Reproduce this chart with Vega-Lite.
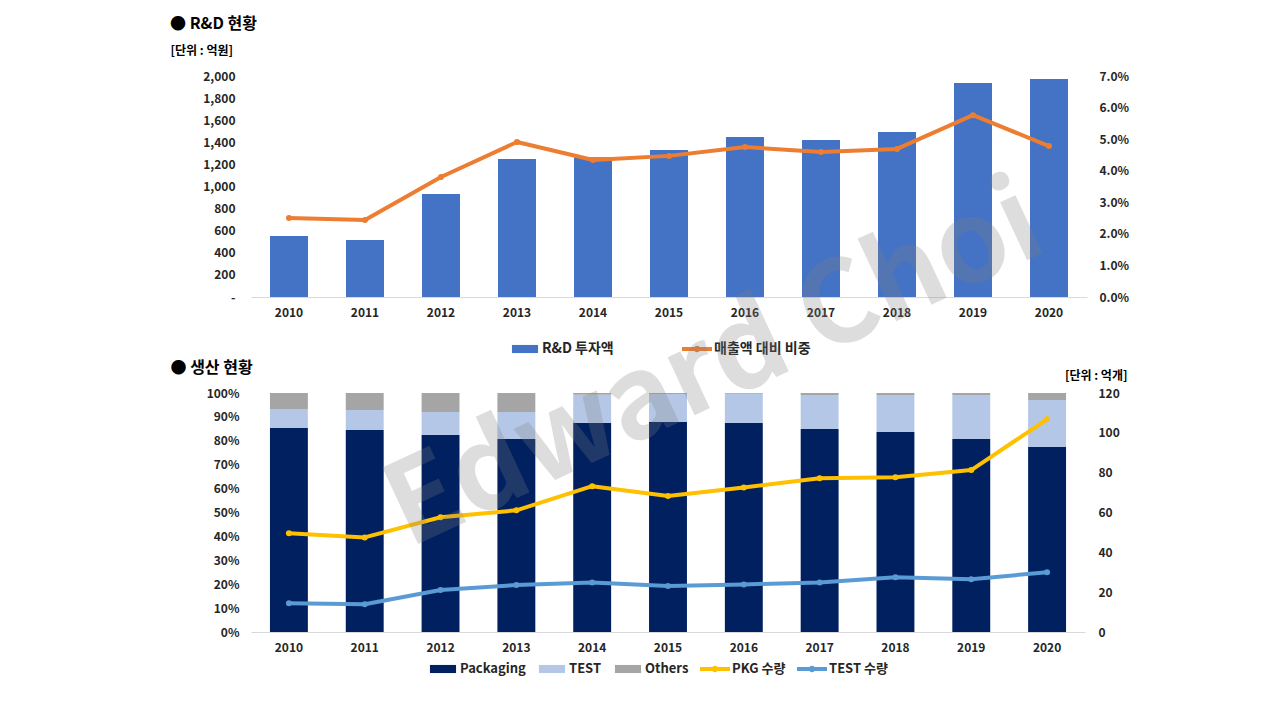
{
  "$schema": "https://vega.github.io/schema/vega-lite/v6.json",
  "background": "white",
  "padding": {"left": 170, "top": 16, "right": 10, "bottom": 10},
  "bounds": "flush",
  "spacing": 96,
  "resolve": {"scale": {"color": "independent"}, "legend": {"color": "independent"}},
  "config": {
    "view": {"stroke": null},
    "font": "Noto Sans CJK KR",
    "axis": {
      "labelFont": "Noto Sans CJK KR",
      "labelFontSize": 12,
      "labelFontWeight": "bold",
      "labelColor": "#262626",
      "labelOverlap": false,
      "titleFont": "Noto Sans CJK KR",
      "ticks": false,
      "tickSize": 0,
      "grid": false,
      "domain": false
    },
    "axisX": {"domain": true, "domainColor": "#d9d9d9", "domainWidth": 1, "labelAngle": 0, "labelPadding": 10, "title": null},
    "legend": {
      "labelFont": "Noto Sans CJK KR",
      "labelFontSize": 13,
      "labelFontWeight": "bold",
      "labelColor": "#262626",
      "padding": 0
    }
  },
  "datasets": {
    "rd": [
      {"year": "2010", "rnd": 552, "ratio": 0.0250},
      {"year": "2011", "rnd": 516, "ratio": 0.0244},
      {"year": "2012", "rnd": 932, "ratio": 0.0380},
      {"year": "2013", "rnd": 1249, "ratio": 0.0491},
      {"year": "2014", "rnd": 1265, "ratio": 0.0434},
      {"year": "2015", "rnd": 1330, "ratio": 0.0447},
      {"year": "2016", "rnd": 1448, "ratio": 0.0475},
      {"year": "2017", "rnd": 1421, "ratio": 0.0459},
      {"year": "2018", "rnd": 1493, "ratio": 0.0469},
      {"year": "2019", "rnd": 1937, "ratio": 0.0576},
      {"year": "2020", "rnd": 1973, "ratio": 0.0478}
    ],
    "share": [
      {"year": "2010", "type": "Packaging", "rank": 1, "pct": 0.854},
      {"year": "2010", "type": "TEST", "rank": 2, "pct": 0.079},
      {"year": "2010", "type": "Others", "rank": 3, "pct": 0.067},
      {"year": "2011", "type": "Packaging", "rank": 1, "pct": 0.845},
      {"year": "2011", "type": "TEST", "rank": 2, "pct": 0.084},
      {"year": "2011", "type": "Others", "rank": 3, "pct": 0.071},
      {"year": "2012", "type": "Packaging", "rank": 1, "pct": 0.824},
      {"year": "2012", "type": "TEST", "rank": 2, "pct": 0.096},
      {"year": "2012", "type": "Others", "rank": 3, "pct": 0.080},
      {"year": "2013", "type": "Packaging", "rank": 1, "pct": 0.808},
      {"year": "2013", "type": "TEST", "rank": 2, "pct": 0.112},
      {"year": "2013", "type": "Others", "rank": 3, "pct": 0.080},
      {"year": "2014", "type": "Packaging", "rank": 1, "pct": 0.874},
      {"year": "2014", "type": "TEST", "rank": 2, "pct": 0.119},
      {"year": "2014", "type": "Others", "rank": 3, "pct": 0.007},
      {"year": "2015", "type": "Packaging", "rank": 1, "pct": 0.879},
      {"year": "2015", "type": "TEST", "rank": 2, "pct": 0.117},
      {"year": "2015", "type": "Others", "rank": 3, "pct": 0.004},
      {"year": "2016", "type": "Packaging", "rank": 1, "pct": 0.874},
      {"year": "2016", "type": "TEST", "rank": 2, "pct": 0.123},
      {"year": "2016", "type": "Others", "rank": 3, "pct": 0.003},
      {"year": "2017", "type": "Packaging", "rank": 1, "pct": 0.849},
      {"year": "2017", "type": "TEST", "rank": 2, "pct": 0.143},
      {"year": "2017", "type": "Others", "rank": 3, "pct": 0.008},
      {"year": "2018", "type": "Packaging", "rank": 1, "pct": 0.837},
      {"year": "2018", "type": "TEST", "rank": 2, "pct": 0.155},
      {"year": "2018", "type": "Others", "rank": 3, "pct": 0.008},
      {"year": "2019", "type": "Packaging", "rank": 1, "pct": 0.808},
      {"year": "2019", "type": "TEST", "rank": 2, "pct": 0.184},
      {"year": "2019", "type": "Others", "rank": 3, "pct": 0.008},
      {"year": "2020", "type": "Packaging", "rank": 1, "pct": 0.774},
      {"year": "2020", "type": "TEST", "rank": 2, "pct": 0.197},
      {"year": "2020", "type": "Others", "rank": 3, "pct": 0.029}
    ],
    "qty": [
      {"year": "2010", "series": "PKG 수량", "qty": 49.6},
      {"year": "2011", "series": "PKG 수량", "qty": 47.5},
      {"year": "2012", "series": "PKG 수량", "qty": 57.6},
      {"year": "2013", "series": "PKG 수량", "qty": 61.1},
      {"year": "2014", "series": "PKG 수량", "qty": 73.2},
      {"year": "2015", "series": "PKG 수량", "qty": 68.3},
      {"year": "2016", "series": "PKG 수량", "qty": 72.6},
      {"year": "2017", "series": "PKG 수량", "qty": 77.2},
      {"year": "2018", "series": "PKG 수량", "qty": 77.7},
      {"year": "2019", "series": "PKG 수량", "qty": 81.3},
      {"year": "2020", "series": "PKG 수량", "qty": 106.8},
      {"year": "2010", "series": "TEST 수량", "qty": 14.4},
      {"year": "2011", "series": "TEST 수량", "qty": 13.9},
      {"year": "2012", "series": "TEST 수량", "qty": 21.1},
      {"year": "2013", "series": "TEST 수량", "qty": 23.6},
      {"year": "2014", "series": "TEST 수량", "qty": 24.9},
      {"year": "2015", "series": "TEST 수량", "qty": 23.1},
      {"year": "2016", "series": "TEST 수량", "qty": 23.9},
      {"year": "2017", "series": "TEST 수량", "qty": 24.9},
      {"year": "2018", "series": "TEST 수량", "qty": 27.5},
      {"year": "2019", "series": "TEST 수량", "qty": 26.5},
      {"year": "2020", "series": "TEST 수량", "qty": 30.0}
    ],
    "mark": [{"label": "Edward Choi"}]
  },
  "vconcat": [
    {
      "width": 836,
      "height": 221,
      "title": {"text": "●  R&D 현황", "anchor": "start", "frame": "bounds", "offset": 12, "fontSize": 16, "fontWeight": "bold", "color": "#000000", "font": "Noto Sans CJK KR"},
      "data": {"name": "rd"},
      "encoding": {
        "x": {"field": "year", "type": "ordinal", "title": null, "scale": {"paddingInner": 0.5, "paddingOuter": 0.25}}
      },
      "layer": [
        {
          "mark": {"type": "bar"},
          "encoding": {
            "y": {
              "field": "rnd", "type": "quantitative",
              "scale": {"domain": [0, 2000]},
              "axis": {
                "orient": "left",
                "values": [0, 200, 400, 600, 800, 1000, 1200, 1400, 1600, 1800, 2000],
                "labelExpr": "datum.value === 0 ? '-' : format(datum.value, ',')",
                "labelPadding": 16,
                "title": "[단위 : 억원]",
                "titleAngle": 0, "titleAlign": "left", "titleBaseline": "middle",
                "titleX": -81, "titleY": -26,
                "titleFontSize": 12, "titleFontWeight": "bold", "titleColor": "#000000"
              }
            },
            "color": {
              "datum": "R&D 투자액",
              "scale": {"domain": ["R&D 투자액", "매출액 대비 비중"], "range": ["#4472C4", "#ED7D31"]},
              "legend": {
                "title": null, "orient": "none", "legendX": 259, "legendY": 258,
                "direction": "horizontal", "columns": 2, "columnPadding": 68, "labelFontSize": 14,
                "symbolType": "M-0.87,-0.27H0.87V0.27H-0.87Z", "symbolSize": 900, "symbolStrokeWidth": 0, "labelOffset": 2,
                "encode": {"symbols": {"update": {
                  "shape": [{"test": "datum.value === '매출액 대비 비중'", "value": "M-1,-0.14H1V0.14H-1Z M0.22,0A0.22,0.22 0 1 1 -0.22,0A0.22,0.22 0 1 1 0.22,0Z"}, {"value": "M-0.87,-0.27H0.87V0.27H-0.87Z"}],
                  "fill": [{"test": "datum.value === '매출액 대비 비중'", "value": "#ED7D31"}, {"value": "#4472C4"}],
                  "stroke": {"value": "transparent"},
                  "strokeWidth": {"value": 0},
                  "opacity": {"value": 1}
                }}}
              }
            }
          }
        },
        {
          "mark": {"type": "line", "strokeWidth": 4, "strokeCap": "round", "strokeJoin": "round", "point": {"filled": true, "size": 36}},
          "encoding": {
            "y": {
              "field": "ratio", "type": "quantitative",
              "scale": {"domain": [0, 0.07]},
              "axis": {"orient": "right", "format": ".1%", "values": [0, 0.01, 0.02, 0.03, 0.04, 0.05, 0.06, 0.07], "labelPadding": 12, "title": null}
            },
            "color": {
              "datum": "매출액 대비 비중",
              "legend": {
                "title": null, "orient": "none", "legendX": 259, "legendY": 258,
                "direction": "horizontal", "columns": 2, "columnPadding": 68, "labelFontSize": 14,
                "symbolType": "M-0.87,-0.27H0.87V0.27H-0.87Z", "symbolSize": 900, "symbolStrokeWidth": 0, "labelOffset": 2,
                "encode": {"symbols": {"update": {
                  "shape": [{"test": "datum.value === '매출액 대비 비중'", "value": "M-1,-0.14H1V0.14H-1Z M0.22,0A0.22,0.22 0 1 1 -0.22,0A0.22,0.22 0 1 1 0.22,0Z"}, {"value": "M-0.87,-0.27H0.87V0.27H-0.87Z"}],
                  "fill": [{"test": "datum.value === '매출액 대비 비중'", "value": "#ED7D31"}, {"value": "#4472C4"}],
                  "stroke": {"value": "transparent"},
                  "strokeWidth": {"value": 0},
                  "opacity": {"value": 1}
                }}}
              }
            }
          }
        }
      ],
      "resolve": {"scale": {"y": "independent"}}
    },
    {
      "width": 834,
      "height": 239,
      "layer": [
        {
          "data": {"name": "share"},
          "mark": {"type": "bar"},
          "encoding": {
            "x": {"field": "year", "type": "ordinal", "title": null, "scale": {"paddingInner": 0.5, "paddingOuter": 0.25}},
            "y": {
              "field": "pct", "type": "quantitative", "stack": "zero",
              "scale": {"domain": [0, 1]},
              "axis": {
                "orient": "left", "format": ".0%",
                "values": [0, 0.1, 0.2, 0.3, 0.4, 0.5, 0.6, 0.7, 0.8, 0.9, 1],
                "labelPadding": 12,
                "title": "●  생산 현황",
                "titleAngle": 0, "titleAlign": "left", "titleBaseline": "middle",
                "titleX": -81, "titleY": -26,
                "titleFontSize": 16, "titleFontWeight": "bold", "titleColor": "#000000"
              }
            },
            "order": {"field": "rank", "type": "quantitative", "sort": "ascending"},
            "color": {
              "field": "type", "type": "nominal",
              "scale": {"domain": ["Packaging", "TEST", "Others", "PKG 수량", "TEST 수량"], "range": ["#002060", "#B4C7E7", "#A5A5A5", "#FFC000", "#5B9BD5"]},
              "legend": {
                "title": null, "orient": "none", "legendX": 177, "legendY": 261,
                "direction": "horizontal", "columns": 5, "columnPadding": 11,
                "symbolType": "M-0.87,-0.27H0.87V0.27H-0.87Z", "symbolSize": 900, "symbolStrokeWidth": 0, "labelOffset": 2,
                "encode": {"symbols": {"update": {
                  "shape": [{"test": "indexof(['PKG 수량','TEST 수량'], datum.value) >= 0", "value": "M-1,-0.14H1V0.14H-1Z M0.22,0A0.22,0.22 0 1 1 -0.22,0A0.22,0.22 0 1 1 0.22,0Z"}, {"value": "M-0.87,-0.27H0.87V0.27H-0.87Z"}],
                  "fill": [
                    {"test": "datum.value === 'Packaging'", "value": "#002060"},
                    {"test": "datum.value === 'TEST'", "value": "#B4C7E7"},
                    {"test": "datum.value === 'Others'", "value": "#A5A5A5"},
                    {"test": "datum.value === 'PKG 수량'", "value": "#FFC000"},
                    {"value": "#5B9BD5"}
                  ],
                  "stroke": {"value": "transparent"},
                  "strokeWidth": {"value": 0},
                  "opacity": {"value": 1}
                }}}
              }
            }
          }
        },
        {
          "layer": [
            {
              "data": {"name": "qty"},
              "mark": {"type": "line", "strokeWidth": 4, "strokeCap": "round", "strokeJoin": "round", "point": {"filled": true, "size": 36}},
              "encoding": {
                "x": {"field": "year", "type": "ordinal", "title": null},
                "y": {
                  "field": "qty", "type": "quantitative",
                  "scale": {"domain": [0, 120]},
                  "axis": {
                    "orient": "right", "values": [0, 20, 40, 60, 80, 100, 120], "labelPadding": 13, "labelOverlap": false,
                    "title": "[단위 : 억개]",
                    "titleAngle": 0, "titleAlign": "right", "titleBaseline": "middle",
                    "titleX": 42, "titleY": -18,
                    "titleFontSize": 12, "titleFontWeight": "bold", "titleColor": "#000000"
                  }
                },
                "color": {
                  "field": "series", "type": "nominal",
                  "legend": {
                    "title": null, "orient": "none", "legendX": 177, "legendY": 261,
                    "direction": "horizontal", "columns": 5, "columnPadding": 11,
                    "symbolType": "M-0.87,-0.27H0.87V0.27H-0.87Z", "symbolSize": 900, "symbolStrokeWidth": 0, "labelOffset": 2,
                    "encode": {"symbols": {"update": {
                      "shape": [{"test": "indexof(['PKG 수량','TEST 수량'], datum.value) >= 0", "value": "M-1,-0.14H1V0.14H-1Z M0.22,0A0.22,0.22 0 1 1 -0.22,0A0.22,0.22 0 1 1 0.22,0Z"}, {"value": "M-0.87,-0.27H0.87V0.27H-0.87Z"}],
                      "fill": [
                        {"test": "datum.value === 'Packaging'", "value": "#002060"},
                        {"test": "datum.value === 'TEST'", "value": "#B4C7E7"},
                        {"test": "datum.value === 'Others'", "value": "#A5A5A5"},
                        {"test": "datum.value === 'PKG 수량'", "value": "#FFC000"},
                        {"value": "#5B9BD5"}
                      ],
                      "stroke": {"value": "transparent"},
                      "strokeWidth": {"value": 0},
                      "opacity": {"value": 1}
                    }}}
                  }
                }
              }
            },
            {
              "data": {"name": "mark"},
              "mark": {"type": "text", "angle": -25, "fontSize": 114, "fontWeight": "bold", "font": "Noto Sans CJK KR", "color": "#808080", "opacity": 0.26, "dx": 52, "align": "center", "baseline": "middle"},
              "encoding": {
                "x": {"datum": "2015", "type": "ordinal"},
                "y": {
                  "datum": 121.5, "type": "quantitative",
                  "axis": {
                    "orient": "right", "values": [0, 20, 40, 60, 80, 100, 120], "labelPadding": 13, "labelOverlap": false,
                    "title": "[단위 : 억개]",
                    "titleAngle": 0, "titleAlign": "right", "titleBaseline": "middle",
                    "titleX": 42, "titleY": -18,
                    "titleFontSize": 12, "titleFontWeight": "bold", "titleColor": "#000000"
                  }
                },
                "text": {"field": "label"}
              }
            }
          ]
        }
      ],
      "resolve": {"scale": {"y": "independent"}}
    }
  ]
}
